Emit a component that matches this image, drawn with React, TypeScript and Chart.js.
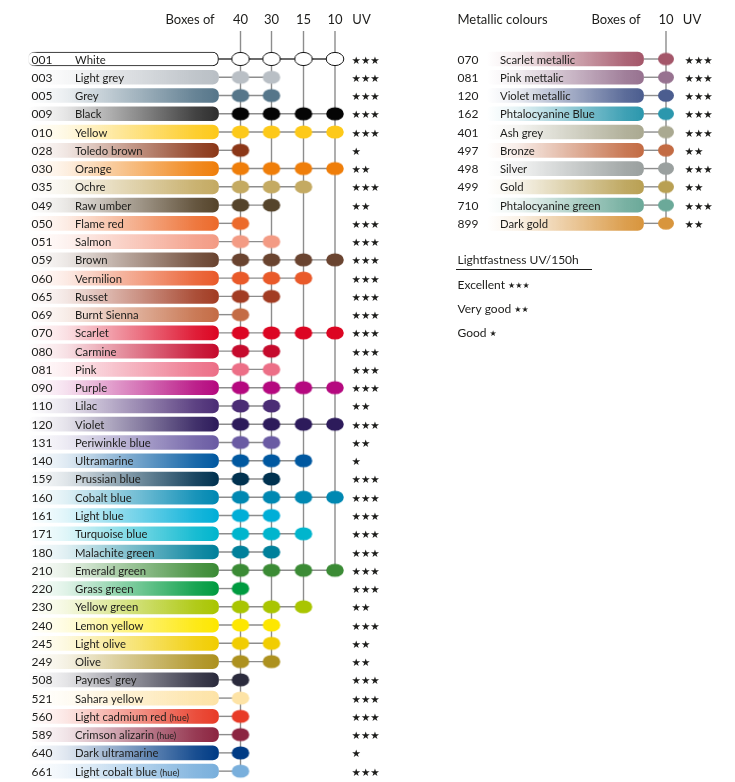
import React, { useEffect, useRef } from 'react';
import { Chart, registerables } from 'chart.js';

Chart.register(...registerables);

// ---------------- data ----------------
const BOX_SIZES = [40, 30, 15, 10];

const CODES = ['001', '003', '005', '009', '010', '028', '030', '035', '049', '050', '051', '059', '060', '065', '069', '070', '080', '081', '090', '110', '120', '131', '140', '159', '160', '161', '171', '180', '210', '220', '230', '240', '245', '249', '508', '521', '560', '589', '640', '661'];

const NAMES = ['White', 'Light grey', 'Grey', 'Black', 'Yellow', 'Toledo brown', 'Orange', 'Ochre', 'Raw umber', 'Flame red', 'Salmon', 'Brown', 'Vermilion', 'Russet', 'Burnt Sienna', 'Scarlet', 'Carmine', 'Pink', 'Purple', 'Lilac', 'Violet', 'Periwinkle blue', 'Ultramarine', 'Prussian blue', 'Cobalt blue', 'Light blue', 'Turquoise blue', 'Malachite green', 'Emerald green', 'Grass green', 'Yellow green', 'Lemon yellow', 'Light olive', 'Olive', "Paynes' grey", 'Sahara yellow', 'Light cadmium red (hue)', 'Crimson alizarin (hue)', 'Dark ultramarine', 'Light cobalt blue (hue)'];

const COLOURS = ['#ffffff', '#b9bfc5', '#56768a', '#050505', '#fdc919', '#8b3718', '#ef7e0a', '#c4aa62', '#55442b', '#ec6a2b', '#f39b84', '#6a4430', '#e95a2a', '#a23c23', '#c46c45', '#dc0522', '#c50a2c', '#ec6f87', '#b5097f', '#4b2d75', '#2d1b5b', '#6a5ba3', '#0058a0', '#013250', '#0088b2', '#00aed7', '#00b5cd', '#00809b', '#3b8b35', '#009b40', '#a9c501', '#fde700', '#f1cd00', '#ad911f', '#2b2b3d', '#fde3a6', '#e83b27', '#8c2541', '#003b85', '#79afdc'];

// smallest box in which the pencil is included
const SMALLEST_BOX = [10, 30, 30, 10, 10, 40, 10, 15, 30, 40, 30, 10, 15, 30, 40, 10, 30, 30, 10, 30, 10, 30, 15, 30, 10, 30, 15, 30, 10, 40, 15, 30, 30, 30, 40, 40, 40, 40, 40, 40];

const UV_RATING = [3, 3, 3, 3, 3, 1, 2, 3, 2, 3, 3, 3, 3, 3, 3, 3, 3, 3, 3, 2, 3, 2, 1, 3, 3, 3, 3, 3, 3, 3, 2, 3, 2, 2, 3, 3, 3, 3, 1, 3];

const METALLIC_CODES = ['070', '081', '120', '162', '401', '497', '498', '499', '710', '899'];
const METALLIC_NAMES = ['Scarlet metallic', 'Pink mettalic', 'Violet metallic', 'Phtalocyanine Blue', 'Ash grey', 'Bronze', 'Silver', 'Gold', 'Phtalocyanine green', 'Dark gold'];
const METALLIC_COLOURS = ['#a45669', '#977290', '#4b5d8f', '#2b97ad', '#aaa991', '#c36b43', '#9aa09f', '#b9a053', '#6ba999', '#d8953d'];
const METALLIC_BOX = [10];
const METALLIC_UV = [3, 3, 3, 3, 3, 2, 3, 2, 3, 2];

const LEGEND_TITLE = 'Lightfastness UV/150h';
const LEGEND_LABELS = ['Excellent', 'Very good', 'Good'];
const LEGEND_STARS = [3, 2, 1];

// ---------------- layout ----------------
const W = 735;
const H = 782;
const ROW_PX = 18.26;
const FIRST_ROW_PX = 59;
const Y_MIN = -FIRST_ROW_PX / ROW_PX;
const Y_MAX = (H - FIRST_ROW_PX) / ROW_PX;
const LINE_TOP = (31 - FIRST_ROW_PX) / ROW_PX;

const LEFT = { code: 31.5, name: 75, barStart: 28, barEnd: 218.5, cols: [240.5, 271.5, 303.5, 335], uv: 351.5 };
const RIGHT = { code: 457.5, name: 500, barStart: 486, barEnd: 643.5, col: 666, uv: 684.5 };

const TEXT = '#1d1d1b';
const LINE = '#8d8d8d';
const CODE_FONT = '12px Lato';
const ROW_FONT = '11.3px Lato';
const SMALL_FONT = '9px Lato';
const HEAD_FONT = '13px Lato';
const LEGEND_FONT = '12px Lato';
const STAR_FONT = '10.5px "DejaVu Sans"';

// ---------------- helpers ----------------
function rgb(hex: string) {
  const h = hex.replace('#', '');
  return [parseInt(h.slice(0, 2), 16), parseInt(h.slice(2, 4), 16), parseInt(h.slice(4, 6), 16)];
}

const ellipseCache = new Map<string, HTMLCanvasElement>();
function ellipse(colour: string, w: number, h: number) {
  const key = colour + w + 'x' + h;
  const hit = ellipseCache.get(key);
  if (hit) return hit;
  const cv = document.createElement('canvas');
  cv.width = Math.ceil(w) + 2;
  cv.height = Math.ceil(h) + 2;
  const c = cv.getContext('2d')!;
  c.beginPath();
  c.ellipse(cv.width / 2, cv.height / 2, w / 2, h / 2, 0, 0, Math.PI * 2);
  c.fillStyle = colour;
  c.fill();
  if (colour === '#ffffff') {
    c.lineWidth = 1;
    c.strokeStyle = '#111';
    c.stroke();
  }
  ellipseCache.set(key, cv);
  return cv;
}

function barFill(ctx: any) {
  const raw = ctx.raw;
  if (!raw) return 'transparent';
  if (raw.c === '#ffffff') return '#ffffff';
  const chart = ctx.chart;
  if (!chart.chartArea) return raw.c;
  const xs = chart.scales.x;
  const x0 = xs.getPixelForValue(raw.x[0]);
  const x1 = xs.getPixelForValue(raw.x[1]);
  const g = chart.ctx.createLinearGradient(x0, 0, x1, 0);
  let [r, gg, b] = rgb(raw.c);
  // pencil swatches never reach pure black: keep a dark graphite tone
  if (r + gg + b < 60) { r = 46; gg = 46; b = 46; }
  const stops = [[0, 0.0], [0.2, 0.12], [0.55, 0.52], [0.88, 0.9], [1, 1]];
  stops.forEach(([p, a]) => g.addColorStop(p, `rgba(${r},${gg},${b},${a})`));
  return g;
}

function barBorder(ctx: any) {
  const raw = ctx.raw;
  const chart = ctx.chart;
  if (!raw || !chart.chartArea) return '#111';
  const xs = chart.scales.x;
  const x0 = xs.getPixelForValue(raw.x[0]);
  const x1 = xs.getPixelForValue(raw.x[1]);
  const g = chart.ctx.createLinearGradient(x0, 0, x1, 0);
  g.addColorStop(0, 'rgba(17,17,17,0)');
  g.addColorStop(0.05, 'rgba(17,17,17,1)');
  g.addColorStop(1, 'rgba(17,17,17,1)');
  return g;
}

function drawName(c: CanvasRenderingContext2D, name: string, x: number, y: number) {
  const hue = ' (hue)';
  c.font = ROW_FONT;
  if (name.endsWith(hue)) {
    const main = name.slice(0, -hue.length);
    c.fillText(main, x, y);
    const w = c.measureText(main + ' ').width;
    c.font = SMALL_FONT;
    c.fillText('(hue)', x + w, y);
  } else {
    c.fillText(name, x, y);
  }
}

const textPlugin = {
  id: 'pencilText',
  afterDatasetsDraw(chart: any) {
    const c: CanvasRenderingContext2D = chart.ctx;
    const xs = chart.scales.x;
    const ys = chart.scales.y;
    const X = (v: number) => xs.getPixelForValue(v);
    c.save();
    c.fillStyle = TEXT;
    c.textBaseline = 'alphabetic';

    // headers
    const headY = 23.5;
    c.font = HEAD_FONT;
    c.textAlign = 'left';
    c.fillText('Boxes of', X(165.5), headY);
    c.textAlign = 'center';
    BOX_SIZES.forEach((b, k) => c.fillText(String(b), X(LEFT.cols[k]), headY));
    c.fillText('UV', X(361.5), headY);
    c.textAlign = 'left';
    c.fillText('Metallic colours', X(457.5), headY);
    c.fillText('Boxes of', X(591.5), headY);
    c.textAlign = 'center';
    c.fillText(String(METALLIC_BOX[0]), X(RIGHT.col), headY);
    c.fillText('UV', X(692), headY);

    // left rows
    c.textAlign = 'left';
    CODES.forEach((code, i) => {
      const py = ys.getPixelForValue(i) + 4.5;
      c.font = CODE_FONT;
      c.fillText(code, X(LEFT.code), py);
      drawName(c, NAMES[i], X(LEFT.name), py);
      c.font = STAR_FONT;
      c.fillText('★'.repeat(UV_RATING[i]), X(LEFT.uv), py);
    });

    // right rows
    METALLIC_CODES.forEach((code, i) => {
      const py = ys.getPixelForValue(i) + 4.5;
      c.font = CODE_FONT;
      c.fillText(code, X(RIGHT.code), py);
      drawName(c, METALLIC_NAMES[i], X(RIGHT.name), py);
      c.font = STAR_FONT;
      c.fillText('★'.repeat(METALLIC_UV[i]), X(RIGHT.uv), py);
    });

    // legend
    c.font = LEGEND_FONT;
    c.fillText(LEGEND_TITLE, X(457.5), 263.5);
    c.strokeStyle = TEXT;
    c.lineWidth = 1;
    c.beginPath();
    c.moveTo(X(456), 269.5);
    c.lineTo(X(592), 269.5);
    c.stroke();
    const legendY = [288.5, 312.5, 336.5];
    LEGEND_LABELS.forEach((lab, i) => {
      c.font = LEGEND_FONT;
      c.fillText(lab, X(457.5), legendY[i]);
      const w = c.measureText(lab + ' ').width;
      c.font = '8px "DejaVu Sans"';
      c.fillText('★'.repeat(LEGEND_STARS[i]), X(457.5) + w, legendY[i] - 0.5);
    });
    c.restore();
  },
};

// ---------------- component ----------------
export default function App() {
  const ref = useRef<HTMLCanvasElement>(null);

  useEffect(() => {
    document.body.style.margin = '0';
    const canvas = ref.current!;

    const leftBars = CODES.map((_, i) => ({ x: [LEFT.barStart, LEFT.barEnd], y: i, c: COLOURS[i] }));
    const rightBars = METALLIC_CODES.map((_, i) => ({ x: [RIGHT.barStart, RIGHT.barEnd], y: i, c: METALLIC_COLOURS[i] }));

    const dotSets = BOX_SIZES.map((box, k) => ({
      type: 'scatter',
      data: CODES.map((_, i) => i)
        .filter((i) => SMALLEST_BOX[i] <= box)
        .map((i) => ({ x: LEFT.cols[k], y: i, c: COLOURS[i] })),
      pointStyle: (ctx: any) => (ctx.raw ? ellipse(ctx.raw.c, 17.6, 13.2) : 'circle'),
      pointRadius: 9,
      pointBorderWidth: 0,
      showLine: false,
      order: 1,
    }));

    const metallicDots = {
      type: 'scatter',
      data: METALLIC_CODES.map((_, i) => ({ x: RIGHT.col, y: i, c: METALLIC_COLOURS[i] })),
      pointStyle: (ctx: any) => (ctx.raw ? ellipse(ctx.raw.c, 16, 12.6) : 'circle'),
      pointRadius: 9,
      pointBorderWidth: 0,
      showLine: false,
      order: 1,
    };

    // vertical lines of each box column down to its last pencil
    const verticals = BOX_SIZES.map((box, k) => {
      let last = 0;
      SMALLEST_BOX.forEach((b, i) => { if (b <= box) last = i; });
      return {
        type: 'scatter',
        data: [{ x: LEFT.cols[k], y: LINE_TOP }, { x: LEFT.cols[k], y: last }],
        showLine: true,
        borderColor: LINE,
        borderWidth: 1.4,
        pointRadius: 0,
        order: 3,
      };
    });
    const metallicVertical = {
      type: 'scatter',
      data: [{ x: RIGHT.col, y: LINE_TOP }, { x: RIGHT.col, y: METALLIC_CODES.length - 1 }],
      showLine: true,
      borderColor: LINE,
      borderWidth: 1.4,
      pointRadius: 0,
      order: 3,
    };

    // horizontal connectors from bar end to the smallest box dot
    const connectorPts: any[] = [];
    CODES.forEach((_, i) => {
      const k = BOX_SIZES.indexOf(SMALLEST_BOX[i]);
      connectorPts.push({ x: LEFT.barEnd, y: i }, { x: LEFT.cols[k], y: i }, { x: null, y: null });
    });
    METALLIC_CODES.forEach((_, i) => {
      connectorPts.push({ x: RIGHT.barEnd, y: i }, { x: RIGHT.col, y: i }, { x: null, y: null });
    });
    const connectors = {
      type: 'scatter',
      data: connectorPts,
      showLine: true,
      spanGaps: false,
      borderColor: LINE,
      borderWidth: 1.4,
      pointRadius: 0,
      segment: {
        borderColor: (ctx: any) => (ctx.p0DataIndex === 0 ? '#3a3a3a' : undefined),
      },
      order: 3,
    };

    const barCommon = {
      type: 'bar',
      indexAxis: 'y',
      grouped: false,
      barThickness: 14,
      borderRadius: 6,
      borderSkipped: false,
      backgroundColor: barFill,
      borderColor: barBorder,
      borderWidth: (ctx: any) => (ctx.raw && ctx.raw.c === '#ffffff' ? 1.1 : 0),
      order: 2,
    };

    const chart = new Chart(canvas, {
      type: 'scatter',
      data: {
        datasets: [
          ...verticals,
          metallicVertical,
          connectors,
          { ...barCommon, data: leftBars },
          { ...barCommon, data: rightBars },
          ...dotSets,
          metallicDots,
        ] as any,
      },
      options: {
        responsive: false,
        animation: false,
        events: [],
        layout: { padding: 0, autoPadding: false },
        plugins: { legend: { display: false }, tooltip: { enabled: false } },
        scales: {
          x: { type: 'linear', min: 0, max: W, display: false, offset: false, beginAtZero: false },
          y: { type: 'linear', min: Y_MIN, max: Y_MAX, reverse: true, display: false, offset: false, beginAtZero: false },
        },
      } as any,
      plugins: [textPlugin],
    });

    return () => chart.destroy();
  }, []);

  return (
    <div style={{ width: W, height: H }}>
      <canvas ref={ref} width={W} height={H} style={{ display: 'block', width: W, height: H }} />
    </div>
  );
}
